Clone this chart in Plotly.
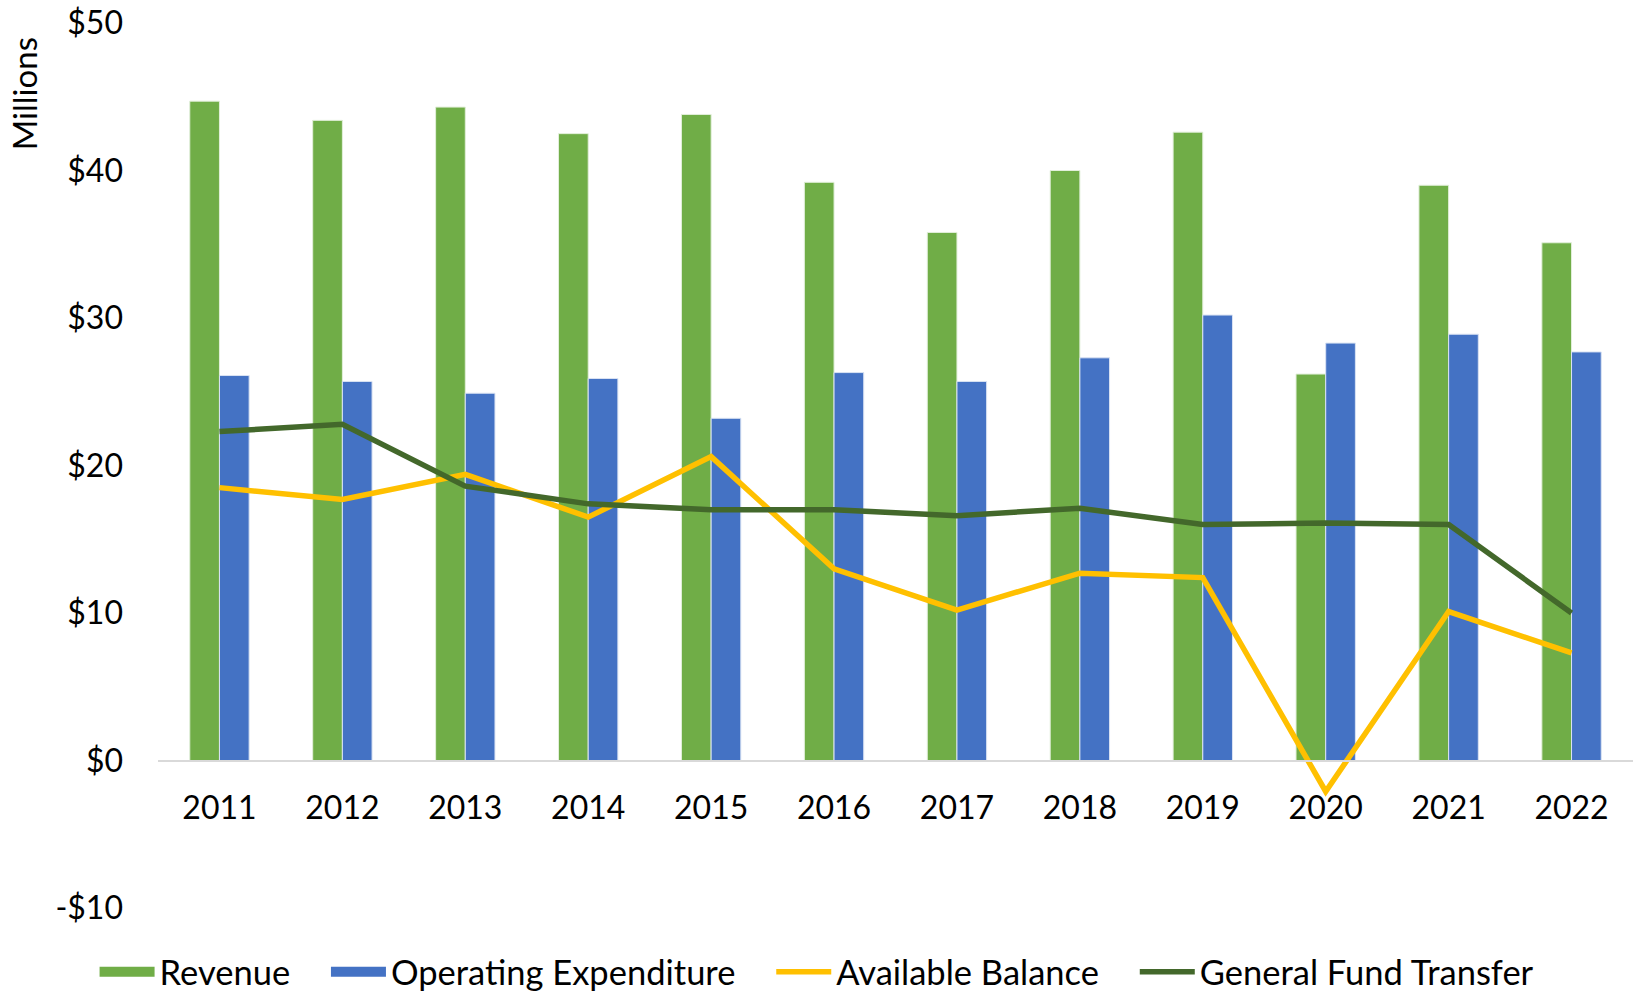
import plotly.graph_objects as go

years = ["2011", "2012", "2013", "2014", "2015", "2016", "2017", "2018", "2019", "2020", "2021", "2022"]
revenue = [44.7, 43.4, 44.3, 42.5, 43.8, 39.2, 35.8, 40.0, 42.6, 26.2, 39.0, 35.1]
operating_expenditure = [26.1, 25.7, 24.9, 25.9, 23.2, 26.3, 25.7, 27.3, 30.2, 28.3, 28.9, 27.7]
available_balance = [18.5, 17.7, 19.4, 16.5, 20.6, 13.0, 10.2, 12.7, 12.4, -2.1, 10.1, 7.3]
general_fund_transfer = [22.3, 22.8, 18.6, 17.4, 17.0, 17.0, 16.6, 17.1, 16.0, 16.1, 16.0, 10.0]

y_tick_vals = [-10, 0, 10, 20, 30, 40, 50]
y_tick_text = ["-$10", "$0", "$10", "$20", "$30", "$40", "$50"]

GREEN = "#70AD47"
BLUE = "#4472C4"
YELLOW = "#FFC000"
DKGREEN = "#43682B"
FONT = "Lato"
PAD = "\u00a0\u00a0\u00a0\u2009"

fig = go.Figure()
fig.add_trace(go.Bar(x=years, y=revenue, name="Revenue", marker_color=GREEN,
                     marker_line=dict(color="#E2EFDA", width=1), showlegend=False))
fig.add_trace(go.Bar(x=years, y=operating_expenditure, name="Operating Expenditure", marker_color=BLUE,
                     marker_line=dict(color="#DAE3F3", width=1), showlegend=False))
fig.add_trace(go.Scatter(x=years, y=available_balance, name="Available Balance", mode="lines",
                         line=dict(color=YELLOW, width=5.5), showlegend=False))
fig.add_trace(go.Scatter(x=years, y=general_fund_transfer, name="General Fund Transfer", mode="lines",
                         line=dict(color=DKGREEN, width=5.5), showlegend=False))

# legend entries (wide rectangles like the original legend keys)
for name, color, w in [("Revenue", GREEN, 21), ("Operating Expenditure", BLUE, 21),
                       ("Available Balance", YELLOW, 5.5), ("General Fund Transfer", DKGREEN, 5.5)]:
    fig.add_trace(go.Scatter(x=[None], y=[None], mode="lines", name=name + PAD,
                             line=dict(color=color, width=w), hoverinfo="skip"))

fig.update_layout(
    width=1633, height=995,
    margin=dict(l=158, r=0, t=23, b=87, autoexpand=False),
    paper_bgcolor="white", plot_bgcolor="white",
    barmode="group", bargap=0.517, bargroupgap=0,
    font=dict(family=FONT, size=32, color="#000000"),
    showlegend=True,
    legend=dict(orientation="h", xref="paper", yref="paper",
                x=-0.043, y=-0.105, xanchor="left", yanchor="bottom",
                font=dict(family=FONT, size=34.5, color="#000000"),
                itemwidth=55, traceorder="normal", bgcolor="rgba(0,0,0,0)"),
    xaxis=dict(type="category", range=[-0.5, 11.5], showgrid=False, zeroline=False,
               showline=True, linecolor="#D9D9D9", linewidth=2, automargin=False,
               anchor="free", position=1/6, ticks="", ticklabelstandoff=19,
               ticklabeloverflow="allow",
               tickfont=dict(family=FONT, size=32, color="#000000")),
    yaxis=dict(range=[-10, 50], tickvals=y_tick_vals, ticktext=y_tick_text,
               showgrid=False, zeroline=False, showline=False, ticks="", automargin=False,
               ticklabelstandoff=34, ticklabeloverflow="allow",
               tickfont=dict(family=FONT, size=32, color="#000000")),
    annotations=[dict(text="Millions", xref="paper", yref="paper", x=-0.0912, y=0.92,
                      textangle=-90, showarrow=False, xanchor="center", yanchor="middle",
                      font=dict(family=FONT, size=33, color="#000000"))],
)

# remove the default 8px page margin so the figure fills the window exactly
fig.write_html("out.html",
               config={"displayModeBar": False},
               post_script="document.body.style.margin='0';document.body.style.overflow='hidden';")
